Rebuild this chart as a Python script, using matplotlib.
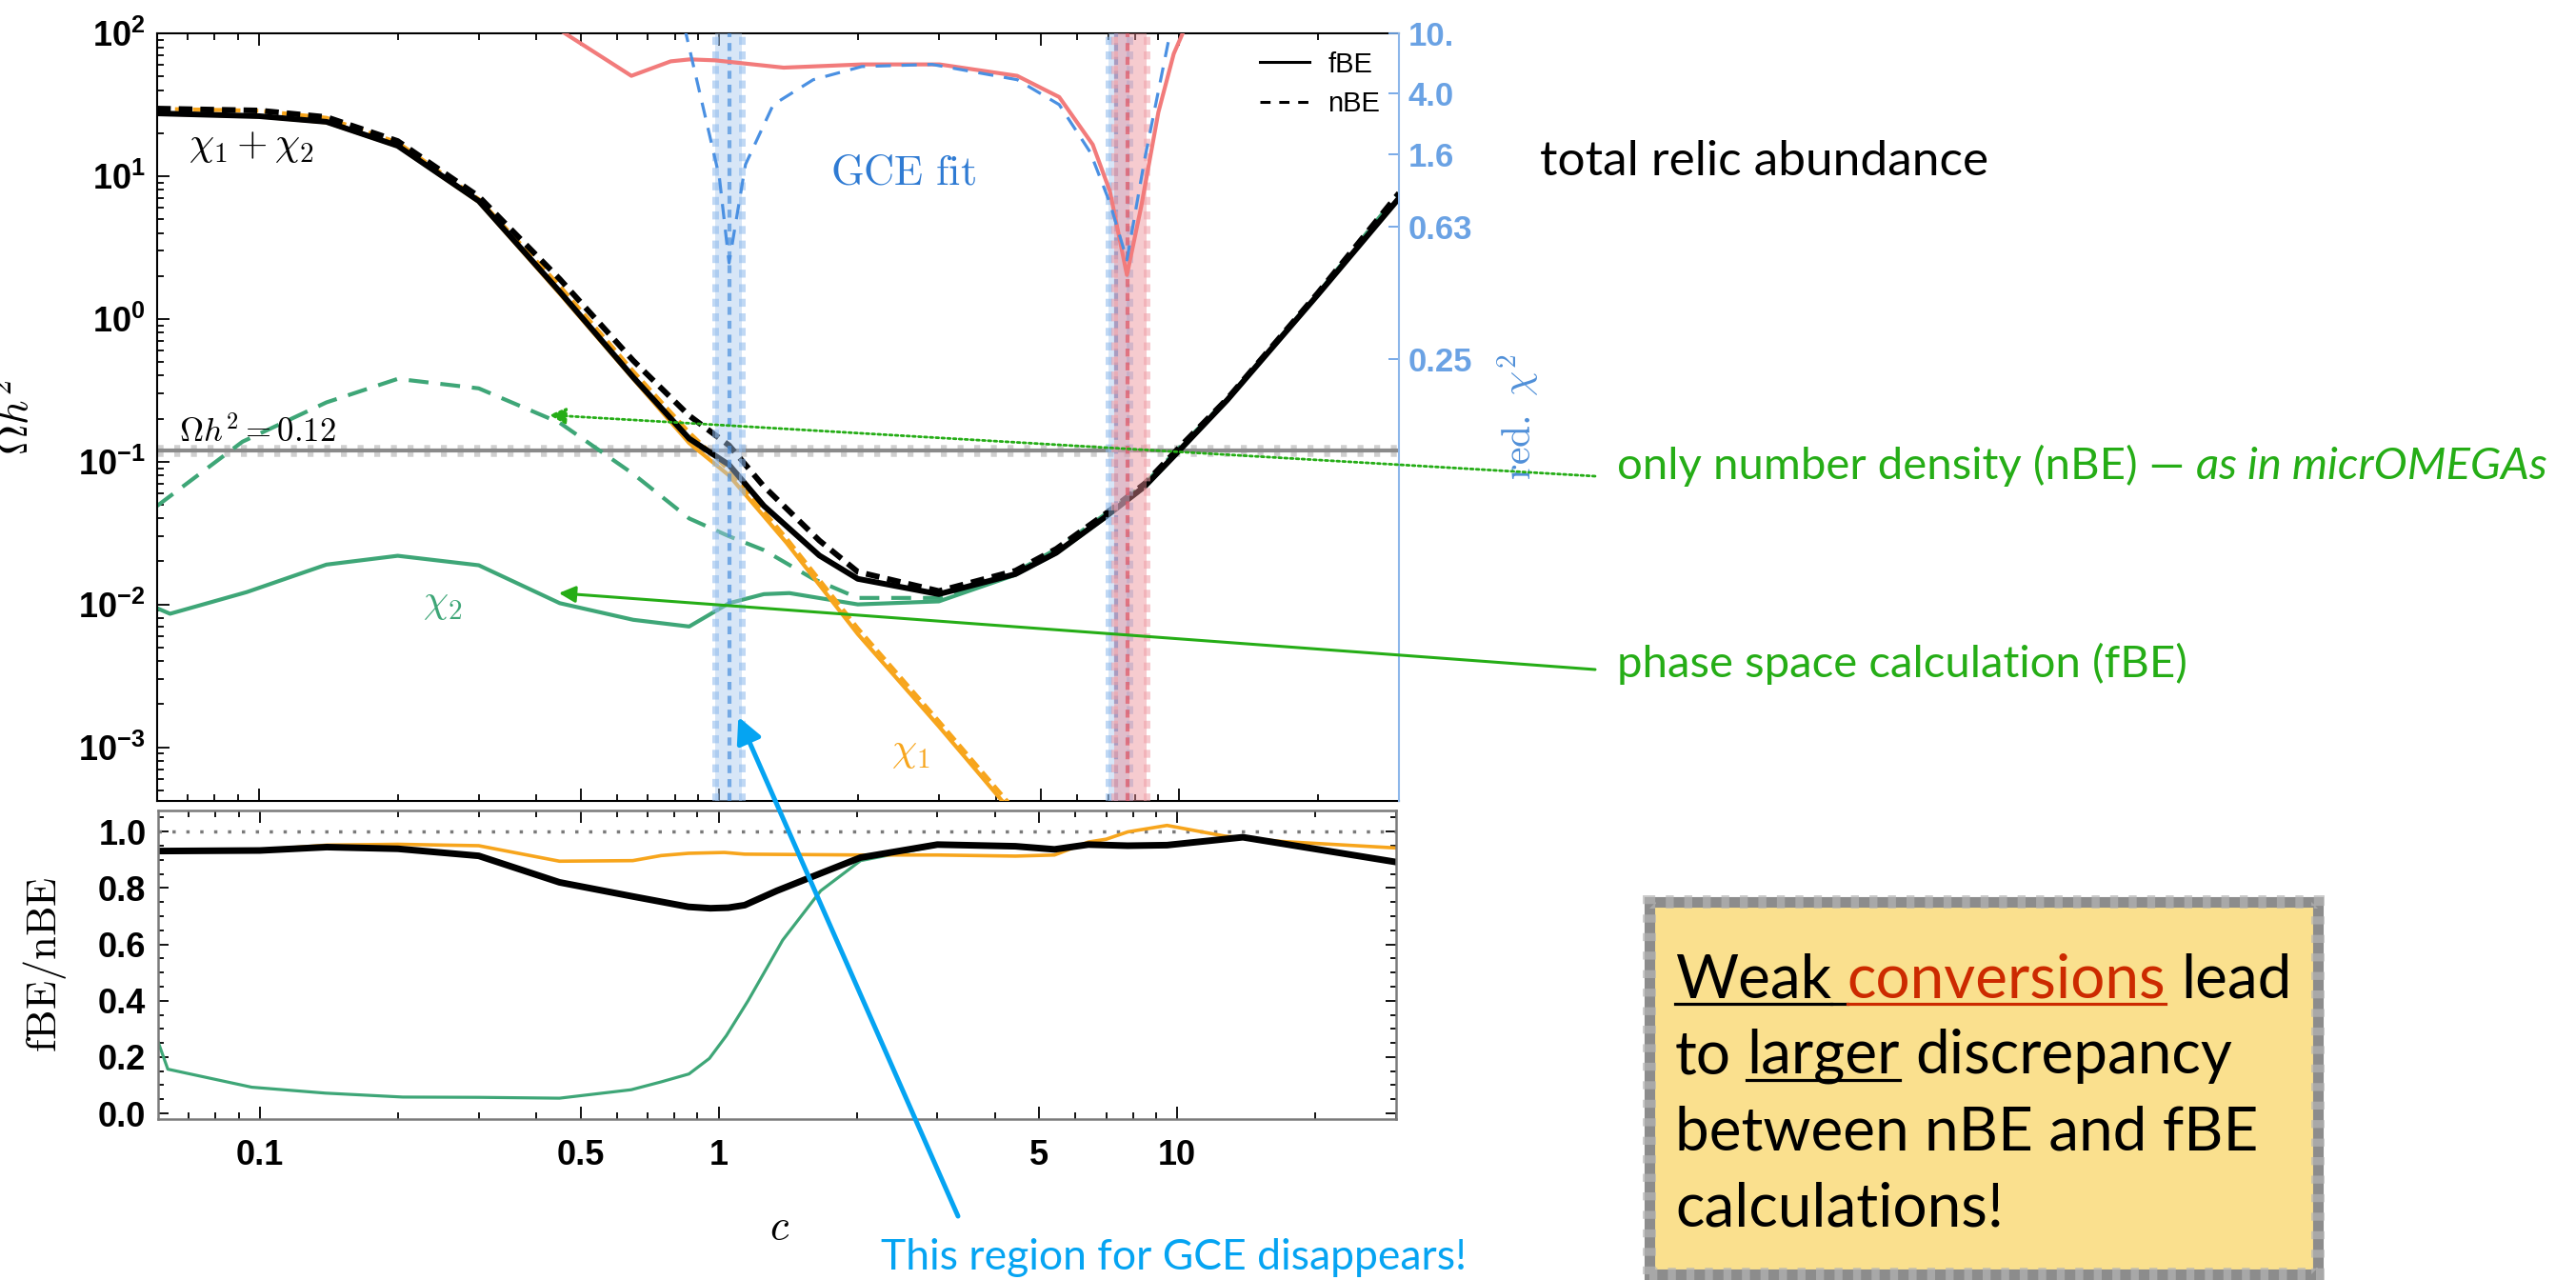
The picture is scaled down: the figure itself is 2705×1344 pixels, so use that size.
import numpy as np
import matplotlib
matplotlib.use('Agg')
import matplotlib.pyplot as plt
from matplotlib.lines import Line2D
from matplotlib.patches import Rectangle, ConnectionPatch
from matplotlib.ticker import FixedLocator, FixedFormatter, NullLocator, MultipleLocator, FormatStrFormatter

# tick labels in bold Helvetica-like font, math labels in computer modern
plt.rcParams['font.family'] = ['Liberation Sans', 'DejaVu Sans']
plt.rcParams['font.weight'] = 'bold'
plt.rcParams['mathtext.fontset'] = 'custom'
plt.rcParams['mathtext.rm'] = 'Liberation Sans:bold'
plt.rcParams['mathtext.bf'] = 'Liberation Sans:bold'
plt.rcParams['mathtext.it'] = 'Liberation Sans:bold'

# ---------------- data ----------------
# total relic abundance chi1+chi2
c_tot = [0.06, 0.1, 0.14, 0.2, 0.3, 0.45, 0.65, 0.86, 1.05, 1.25, 1.65, 2.0, 3.0, 4.4, 5.4, 6.9, 8.4, 10, 12.7, 20, 30]
tot_fbe = [27.5, 26.3, 24.0, 16.3, 6.7, 1.55, 0.39, 0.145, 0.095, 0.049, 0.022, 0.0151, 0.0118, 0.0163, 0.023, 0.041, 0.067, 0.12, 0.27, 1.48, 7.0]
tot_nbe = [29.7, 28.8, 25.9, 17.6, 7.2, 1.9, 0.51, 0.21, 0.13, 0.067, 0.028, 0.0169, 0.0124, 0.0172, 0.0245, 0.043, 0.070, 0.126, 0.275, 1.52, 7.6]

# chi1
c_chi1 = [0.06, 0.1, 0.14, 0.2, 0.3, 0.45, 0.65, 0.86, 1.05, 1.4, 2.0, 3.0, 4.5]
chi1_fbe = [27.4, 26.2, 23.8, 16.2, 6.6, 1.5, 0.38, 0.135, 0.080, 0.027, 0.0062, 0.0014, 0.0003]
chi1_nbe = [29.6, 28.7, 25.6, 17.2, 6.9, 1.7, 0.43, 0.16, 0.087, 0.029, 0.0068, 0.00152, 0.00033]

# chi2
c_chi2 = [0.06, 0.064, 0.094, 0.14, 0.2, 0.3, 0.45, 0.65, 0.86, 1.05, 1.25, 1.42, 2.0, 3.0, 4.4, 5.4, 6.9, 8.4, 10, 12.7, 20, 30]
chi2_fbe = [0.0094, 0.0086, 0.0122, 0.019, 0.0219, 0.0188, 0.0102, 0.0078, 0.0070, 0.0102, 0.0118, 0.012, 0.0100, 0.0105, 0.0161, 0.0228, 0.0405, 0.066, 0.119, 0.268, 1.47, 6.95]
c_chi2n = [0.06, 0.092, 0.14, 0.2, 0.3, 0.45, 0.65, 0.86, 1.05, 1.25, 1.6, 2.0, 3.0, 4.4, 5.4, 6.9, 8.4, 10, 12.7, 20, 30]
chi2_nbe = [0.049, 0.138, 0.26, 0.38, 0.326, 0.187, 0.082, 0.040, 0.030, 0.024, 0.0151, 0.0111, 0.0111, 0.0168, 0.0244, 0.0428, 0.0698, 0.1255, 0.274, 1.51, 7.6]

# reduced chi^2 of the GCE fit
c_fit_f = [0.44, 0.644, 0.784, 0.863, 0.98, 1.38, 2.04, 3.01, 4.44, 5.48, 6.48, 7.06, 7.69, 8.26, 9.0, 9.72, 10.3]
redchi_fbe = [11, 5.2, 6.5, 6.7, 6.6, 5.9, 6.2, 6.2, 5.2, 3.76, 1.86, 1.0, 0.45, 0.82, 3.0, 7.3, 11]
c_fit_n = [0.84, 1.0, 1.05, 1.14, 1.31, 1.6, 2.04, 2.9, 4.44, 5.48, 6.4, 7.06, 7.69, 8.4, 9.6]
redchi_nbe = [11, 1.2, 0.49, 1.41, 3.36, 4.9, 6.0, 6.2, 4.9, 3.36, 1.66, 0.86, 0.5, 1.5, 11]
gce_blue = [(0.98, 1.12, 1.05), (7.0, 7.8, 7.3)]
gce_red = [(7.2, 8.5, 7.7)]
omega_obs = 0.12

# ratio fBE / nBE
c_rat = [0.06, 0.1, 0.14, 0.2, 0.3, 0.45, 0.65, 0.86, 0.96, 1.05, 1.14, 1.34, 1.67, 2.04, 3.0, 4.44, 5.4, 6.4, 7.8, 9.5, 13.9, 30]
rat_tot = [0.931, 0.933, 0.945, 0.939, 0.914, 0.820, 0.770, 0.733, 0.728, 0.730, 0.739, 0.79, 0.852, 0.908, 0.954, 0.948, 0.937, 0.954, 0.950, 0.952, 0.98, 0.892]
c_rat1 = [0.06, 0.1, 0.14, 0.2, 0.3, 0.45, 0.65, 0.75, 0.86, 1.03, 1.14, 2.04, 3.0, 4.44, 5.4, 6.4, 7.0, 7.8, 9.5, 12.7, 16.9, 30]
rat_chi1 = [0.931, 0.935, 0.952, 0.955, 0.95, 0.895, 0.897, 0.915, 0.923, 0.926, 0.92, 0.917, 0.917, 0.913, 0.917, 0.963, 0.973, 0.999, 1.022, 0.984, 0.965, 0.942]
c_rat2 = [0.06, 0.063, 0.096, 0.139, 0.205, 0.3, 0.45, 0.645, 0.75, 0.862, 0.955, 1.04, 1.16, 1.38, 1.67, 2.04, 3.0, 4.44, 5.4, 6.4, 7.8, 9.5, 13.9, 30]
rat_chi2 = [0.254, 0.157, 0.093, 0.072, 0.058, 0.057, 0.054, 0.084, 0.112, 0.14, 0.195, 0.276, 0.40, 0.615, 0.79, 0.897, 0.95, 0.948, 0.937, 0.954, 0.950, 0.952, 0.98, 0.892]

x_major = [0.1, 0.5, 1, 5, 10]
x_major_lbl = ['0.1', '0.5', '1', '5', '10']
x_minor = [0.07, 0.08, 0.09, 0.2, 0.3, 0.4, 0.6, 0.7, 0.8, 0.9, 2, 3, 4, 6, 7, 8, 9, 20, 30]
chi_ticks = [0.25, 0.63, 1.6, 4.0, 10]
chi_tick_lbl = ['0.25', '0.63', '1.6', '4.0', '10.']

# colours
BLACK = 'black'
ORANGE = '#f7a51c'
GREEN = '#3ea677'
RED = '#f27b7b'
BLUE = '#4a90e2'
ANNO_GREEN = '#25ad16'
SKY = '#05a4f2'
ANN_FONT = 'Lato'

# ---------------- figure ----------------
W, H = 2705, 1344
fig = plt.figure(figsize=(W / 100, H / 100), dpi=100)


def fx(p):
    return p / W


def fy(p):
    return 1 - p / H


ax = fig.add_axes([fx(165), fy(841), fx(1469) - fx(165), fy(35) - fy(841)])
axr = fig.add_axes([fx(166), fy(1175), fx(1466) - fx(166), fy(851) - fy(1175)])

# ---- top panel: relic abundance ----
ax.set_xscale('log')
ax.set_yscale('log')
ax.set_xlim(0.06, 30)
ax.set_ylim(4.2e-4, 100)

ax.axhline(omega_obs, color='#c4c4c4', lw=9, ls=(0, (0.5, 0.9)), alpha=0.8, zorder=1)
ax.axhline(omega_obs, color='#8a8a8a', lw=3, zorder=1.5)

ax.plot(c_chi2n, chi2_nbe, color=GREEN, lw=3, ls=(0, (5, 3)), zorder=2)
ax.plot(c_chi2, chi2_fbe, color=GREEN, lw=3, zorder=2)
ax.plot(c_chi1, chi1_nbe, color=ORANGE, lw=3, ls=(0, (3, 1.5)), zorder=3)
ax.plot(c_chi1, chi1_fbe, color=ORANGE, lw=3, zorder=3)
ax.plot(c_tot, tot_fbe, color=BLACK, lw=4.3, zorder=4)
ax.plot(c_tot, tot_nbe, color=BLACK, lw=4.3, ls=(0, (2.4, 1.4)), zorder=4)

ax.text(0.0703, 16.3, r'$\chi_1+\chi_2$', fontsize=30, math_fontfamily='cm', va='center', ha='left')
ax.text(0.25, 0.0103, r'$\chi_2$', fontsize=30, color=GREEN, math_fontfamily='cm', va='center', ha='center')
ax.text(2.6, 0.00094, r'$\chi_1$', fontsize=30, color=ORANGE, math_fontfamily='cm', va='center', ha='center')
ax.text(0.067, 0.138, r'$\Omega h^2 = 0.12$', fontsize=25, math_fontfamily='cm', va='baseline', ha='left')
ax.text(2.51, 10.5, r'$\mathrm{GCE\ fit}$', fontsize=32, color='#2f7bd3', math_fontfamily='cm', va='center', ha='center')

ax.set_ylabel(r'$\Omega h^2$', fontsize=32, math_fontfamily='cm')
ax.yaxis.set_label_coords(-0.097, 0.5)

ax.xaxis.set_major_locator(FixedLocator(x_major))
ax.xaxis.set_minor_locator(FixedLocator(x_minor))
ax.xaxis.set_major_formatter(FixedFormatter(x_major_lbl))
ax.yaxis.set_major_locator(FixedLocator([1e-3, 1e-2, 1e-1, 1, 10, 100]))
ax.yaxis.set_major_formatter(FixedFormatter([r'$10^{%d}$' % k for k in range(-3, 3)]))
ax.yaxis.set_minor_locator(FixedLocator([m * 10.0 ** k for k in range(-4, 2) for m in range(2, 10)]))
ax.tick_params(which='both', direction='in', top=True, right=False, labelbottom=False, width=1.3)
ax.tick_params(axis='x', which='major', length=9.5)
ax.tick_params(axis='x', which='minor', length=5)
ax.tick_params(axis='y', which='major', length=9, labelsize=26, pad=9)
ax.tick_params(axis='y', which='minor', length=5)
ax.spines['right'].set_visible(False)
for s in ['top', 'left', 'bottom']:
    ax.spines[s].set_linewidth(1.5)

# ---- reduced chi^2 axis on the right ----
chi_u = np.array([-6.0, -1.4, -0.6, -0.2, 0.2, 0.6, 1.0, 3.0])
chi_f = np.array([-1.0, 0.0, 0.577, 0.748, 0.841, 0.922, 1.0, 1.39])


def chi_fwd(v):
    return np.interp(np.log10(np.clip(v, 1e-6, None)), chi_u, chi_f)


def chi_inv(f):
    return 10 ** np.interp(f, chi_f, chi_u)


ax2 = ax.twinx()
ax2.set_yscale('function', functions=(chi_fwd, chi_inv))
ax2.set_ylim(chi_inv(0.0), 10)

for lo, hi, mid in gce_blue:
    ax2.axvspan(lo, hi, color='#a8c8ef', alpha=0.45, lw=0, zorder=1)
    for xb in (lo, hi):
        ax2.axvline(xb, color='#8cb8ec', lw=5, ls=(0, (1.2, 1.0)), alpha=0.55, zorder=1)
    ax2.axvline(mid, color='#4a8fdc', lw=3, ls=(0, (2, 1.5)), alpha=0.7, zorder=1)
for lo, hi, mid in gce_red:
    ax2.axvspan(lo, hi, color='#ec8d96', alpha=0.45, lw=0, zorder=1)
    for xb in (lo, hi):
        ax2.axvline(xb, color='#f0a0a8', lw=5, ls=(0, (1.2, 1.0)), alpha=0.55, zorder=1)
    ax2.axvline(mid, color='#e05563', lw=3, ls=(0, (2, 1.5)), alpha=0.7, zorder=1)

ax2.plot(c_fit_f, redchi_fbe, color=RED, lw=3, zorder=3)
ax2.plot(c_fit_n, redchi_nbe, color=BLUE, lw=2.3, ls=(0, (5, 3.5)), zorder=3)

ax2.yaxis.set_major_locator(FixedLocator(chi_ticks))
ax2.yaxis.set_major_formatter(FixedFormatter(chi_tick_lbl))
ax2.yaxis.set_minor_locator(NullLocator())
ax2.tick_params(axis='y', direction='in', length=8, width=1.3, color='#6ea4e6',
                labelcolor='#6aa2e4', labelsize=25, pad=7)
for s in ['top', 'left', 'bottom']:
    ax2.spines[s].set_visible(False)
ax2.spines['right'].set_color('#8db7ea')
ax2.spines['right'].set_linewidth(1.5)
ax2.set_ylabel(r'$\mathrm{red.}\ \chi^2$', fontsize=30, color='#4f8fd8', math_fontfamily='cm')
ax2.yaxis.set_label_coords(1.078, 0.5)

handles = [Line2D([], [], color='black', lw=2.2), Line2D([], [], color='black', lw=2.2, ls=(0, (3.5, 3)))]
ax2.legend(handles, ['fBE', 'nBE'], loc='upper left', bbox_to_anchor=(0.888, 0.977), frameon=False,
           prop={'family': 'Liberation Sans', 'weight': 'normal', 'size': 21},
           handlelength=1.8, handletextpad=0.65, labelspacing=0.46, borderpad=0, borderaxespad=0)

# ---- lower panel: ratio ----
axr.set_xscale('log')
axr.set_xlim(0.06, 30)
axr.set_ylim(-0.02, 1.075)
axr.axhline(1.0, color='#7a7a7a', lw=2.5, ls=(0, (1.0, 3.2)))
axr.plot(c_rat2, rat_chi2, color=GREEN, lw=2.3)
axr.plot(c_rat1, rat_chi1, color=ORANGE, lw=2.6)
axr.plot(c_rat, rat_tot, color=BLACK, lw=5)

axr.xaxis.set_major_locator(FixedLocator(x_major))
axr.xaxis.set_minor_locator(FixedLocator(x_minor))
axr.xaxis.set_major_formatter(FixedFormatter(x_major_lbl))
axr.yaxis.set_major_locator(MultipleLocator(0.2))
axr.yaxis.set_minor_locator(MultipleLocator(0.05))
axr.yaxis.set_major_formatter(FormatStrFormatter('%.1f'))
axr.tick_params(which='both', direction='in', top=True, right=True, width=1.3)
axr.tick_params(axis='x', which='major', length=9.5, labelsize=26, pad=15)
axr.tick_params(axis='x', which='minor', length=5)
axr.tick_params(axis='y', which='major', length=8, labelsize=26, pad=9)
axr.tick_params(axis='y', which='minor', length=4)
for s in axr.spines.values():
    s.set_color('#7a7a7a')
    s.set_linewidth(1.8)
axr.set_ylabel(r'$\mathrm{fBE/nBE}$', fontsize=32, math_fontfamily='cm')
axr.yaxis.set_label_coords(-0.072, 0.5)
axr.set_xlabel(r'$c$', fontsize=32, math_fontfamily='cm')
axr.xaxis.set_label_coords(0.502, -0.29)

# ---- annotations on the slide ----
rend = fig.canvas.get_renderer()


def space_w(size, style):
    t1 = fig.text(0, 0, 'a a', fontsize=size, family=ANN_FONT, style=style, weight='normal')
    t2 = fig.text(0, 0, 'aa', fontsize=size, family=ANN_FONT, style=style, weight='normal')
    w = t1.get_window_extent(renderer=rend).width - t2.get_window_extent(renderer=rend).width
    t1.remove()
    t2.remove()
    return w


def text_runs(runs, x0, y0, size, ul_lw=2.3):
    x = x0
    for s, col, sty, ul in runs:
        if s == ' ':
            w = space_w(size, sty)
        else:
            t = fig.text(fx(x), fy(y0), s, fontsize=size, color=col, style=sty, family=ANN_FONT,
                         weight='normal', va='baseline', ha='left')
            w = t.get_window_extent(renderer=rend).width
        if ul:
            yl = y0 + 0.11 * size * 100 / 72
            fig.add_artist(Line2D([fx(x), fx(x + w)], [fy(yl), fy(yl)], color=col, lw=ul_lw,
                                  transform=fig.transFigure))
        x += w


text_runs([('total relic abundance', 'black', 'normal', False)], 1617, 184, 37)
text_runs([('only number density (nBE) \u2014', ANNO_GREEN, 'normal', False), (' ', ANNO_GREEN, 'normal', False),
           ('as in micrOMEGAs', ANNO_GREEN, 'italic', False)], 1698, 503, 34)
text_runs([('phase space calculation (fBE)', ANNO_GREEN, 'normal', False)], 1698, 711, 34)
text_runs([('This region for GCE disappears!', SKY, 'normal', False)], 925, 1333, 32)

# arrows
fig.add_artist(ConnectionPatch(xyA=(fx(1675), fy(500)), coordsA='figure fraction', xyB=(0.427, 0.212),
                               coordsB=ax.transData, arrowstyle='-|>', color=ANNO_GREEN, lw=2,
                               ls=(0, (1, 1.2)), mutation_scale=26))
fig.add_artist(ConnectionPatch(xyA=(fx(1675), fy(703)), coordsA='figure fraction', xyB=(0.448, 0.0120),
                               coordsB=ax.transData, arrowstyle='-|>', color=ANNO_GREEN, lw=2.2,
                               mutation_scale=26))
fig.add_artist(ConnectionPatch(xyA=(fx(1006), fy(1277)), coordsA='figure fraction', xyB=(1.1, 0.00163),
                               coordsB=ax.transData, arrowstyle='-|>', color=SKY, lw=3.6,
                               mutation_scale=40))

# yellow note box
fig.add_artist(Rectangle((fx(1732), fy(1338)), fx(2434) - fx(1732), fy(947) - fy(1338),
                         transform=fig.transFigure, facecolor='#fae08e', edgecolor='#8c8c8c', lw=8))
fig.add_artist(Rectangle((fx(1732), fy(1338)), fx(2434) - fx(1732), fy(947) - fy(1338),
                         transform=fig.transFigure, facecolor='none', edgecolor='#b5b5b5', lw=10,
                         ls=(0, (0.6, 0.8)), alpha=0.7))
BOX = 46
text_runs([('Weak', 'black', 'normal', True), (' ', 'black', 'normal', True),
           ('conversions', '#cc2a00', 'normal', True), (' ', 'black', 'normal', False),
           ('lead', 'black', 'normal', False)], 1759, 1047, BOX)
text_runs([('to', 'black', 'normal', False), (' ', 'black', 'normal', False), ('larger', 'black', 'normal', True),
           (' ', 'black', 'normal', False), ('discrepancy', 'black', 'normal', False)], 1759, 1127, BOX)
text_runs([('between nBE and fBE', 'black', 'normal', False)], 1759, 1207, BOX)
text_runs([('calculations!', 'black', 'normal', False)], 1759, 1287, BOX)

fig.savefig('out.png', dpi=100)
